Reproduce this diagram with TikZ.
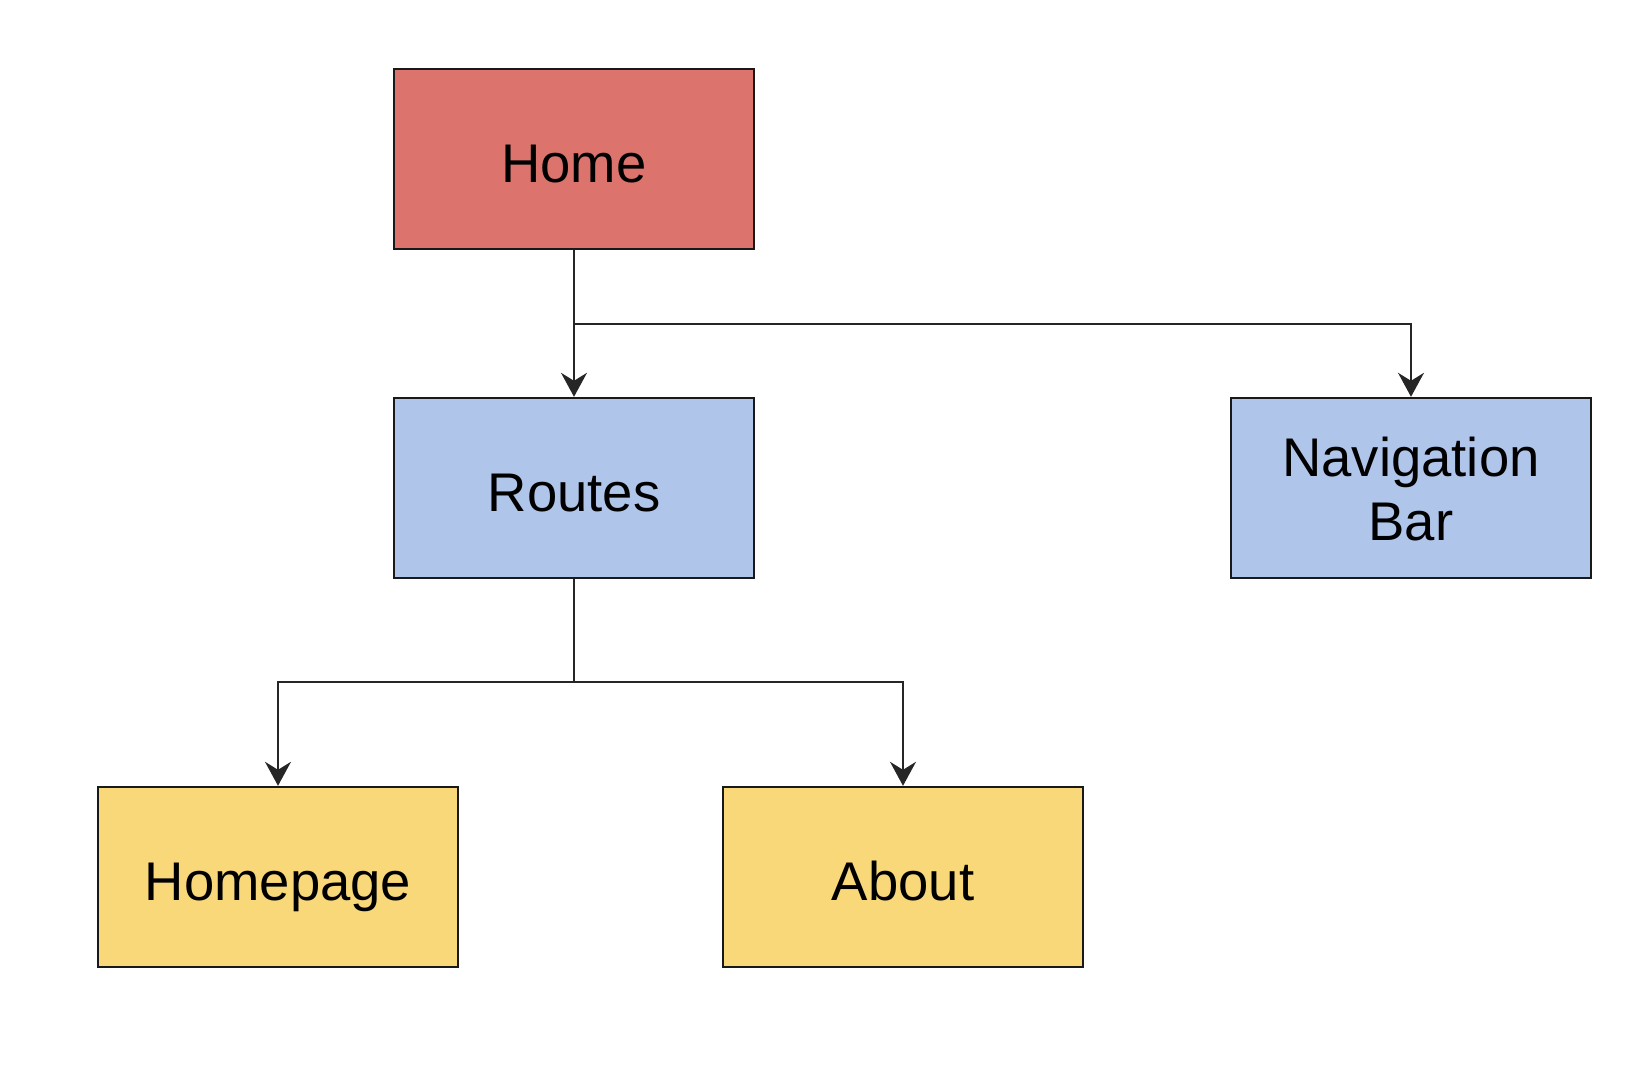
\documentclass[tikz,border=0pt]{standalone}
\usepackage{fontspec}
\setmainfont{Liberation Sans}
\usepackage{xcolor}
\usetikzlibrary{arrows.meta}

\definecolor{homered}{RGB}{220,115,108}
\definecolor{routeblue}{RGB}{175,197,234}
\definecolor{pageyellow}{RGB}{249,216,122}

\begin{document}
\begin{tikzpicture}[
		x=0.02cm, y=-0.02cm,
		line width=1.1pt,
		every node/.style={font=\fontsize{31}{36.4}\selectfont},
		box/.style={draw=black!90, line width=1.4pt, minimum width=7.2cm, minimum height=3.6cm, inner sep=0pt},
		oneline/.style={text height=26.7pt, text depth=0pt},
		twoline/.style={text height=22.2pt, text depth=35.1pt},
		root/.style={box, oneline, fill=homered},
		mid/.style={box, fill=routeblue},
		leaf/.style={box, oneline, fill=pageyellow},
		conn/.style={draw=black!85, -{Stealth[length=0.48cm, width=0.52cm, inset=0.16cm]}}
		]
	
	\useasboundingbox (0, 0) rectangle (1650, 1080);
	
	% Top
	\node[root] (home) at (574, 159) {Home};
	
	% Middle row
	\node[mid, oneline] (routes) at (574, 488) {Routes};
	\node[mid, twoline] (nav) at (1411, 488) {\parbox[t]{7cm}{\centering Navigation\\Bar}};
	
	% Bottom row
	\node[leaf] (homepage) at (278, 877) {Homepage};
	\node[leaf] (about) at (903, 877) {About};
	
	% Home to Routes and Navigation Bar
	\coordinate (split1) at (574, 324);
	\draw[conn] (home) -- (routes);
	\draw[conn] (split1) -| (nav.north);
	
	% Routes to pages
	\coordinate (split2) at (574, 682);
	\draw[draw=black!85] (routes) -- (split2);
	\draw[conn] (split2) -| (homepage.north);
	\draw[conn] (split2) -| (about.north);
	
\end{tikzpicture}
\end{document}
